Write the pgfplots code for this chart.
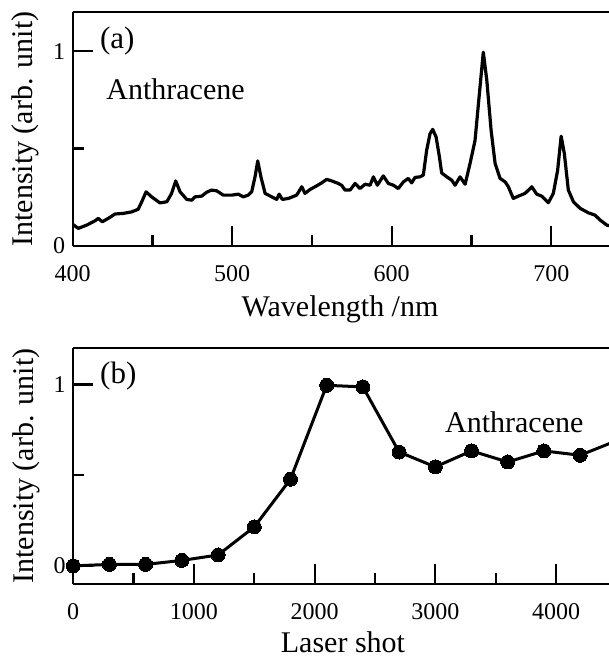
\documentclass[border=0pt]{standalone}
\usepackage{fontspec}
\setmainfont{Liberation Serif}
\usepackage{pgfplots}
\pgfplotsset{compat=1.18}

% shared look of both panels
\pgfplotsset{
  panel/.style={
    scale only axis,
    axis y line*=left,
    y axis line style={-},
    axis line style={line width=2.2pt},
    every tick/.style={black, line width=2.2pt},
    major tick length=20pt, minor tick length=11pt,
    tick align=inside,
    xtick pos=bottom, ytick pos=left,
    ticklabel style={font=\fontsize{24}{24}\selectfont},
    /pgf/number format/assume math mode=true,
    /pgf/number format/set thousands separator={},
    xticklabel style={yshift=-16pt},
    yticklabel style={xshift=-4pt},
    ylabel style={at={(axis description cs:0,0.5)}, rotate=0, anchor=south,
      yshift=30pt, font=\fontsize{30}{30}\selectfont},
    clip mode=individual,
  },
}

\begin{document}
\begin{tikzpicture}
% (b) intensity vs laser shot
\begin{axis}[panel, name=bot,
  at={(0pt,0pt)}, anchor=south west,
  width=535.8pt, height=235.7pt,
  xmin=0, xmax=4439, ymin=-0.1, ymax=1.2,
  xtick={0,1000,2000,3000,4000}, minor xtick={500,1500,2500,3500},
  ytick={0,1}, minor ytick={0.5},
  xlabel={Laser shot},
  xlabel style={at={(axis cs:2235,-0.1)}, anchor=base, yshift=-68.5pt,
    font=\fontsize{30}{30}\selectfont},
  ylabel={Intensity (arb. unit)},
]
\addplot[black, line width=3pt] coordinates {(4200,0.610) (4500,0.690)};
\addplot[black, line width=3pt, mark=*, mark size=7pt, mark options={line width=0pt}] coordinates {
  (0,0.000) (300,0.008) (600,0.008) (900,0.030) (1200,0.060)
  (1500,0.215) (1800,0.478) (2100,0.996) (2400,0.987) (2700,0.628)
  (3000,0.546) (3300,0.634) (3600,0.573) (3900,0.634) (4200,0.610)
};
\draw[line width=2.2pt] (rel axis cs:0,1) -- (rel axis cs:1,1);
\node[anchor=west, inner sep=0pt, font=\fontsize{31}{31}\selectfont] at (axis cs:222,1.046) {(b)};
\node[anchor=base west, inner sep=0pt, font=\fontsize{30}{30}\selectfont] at (axis cs:3080,0.737) {Anthracene};
\end{axis}

% (a) spectrum
\begin{axis}[panel, name=top,
  at={(-0.5pt,338.3pt)}, anchor=south west,
  width=536.3pt, height=233.4pt,
  xmin=400, xmax=736.2, ymin=0, ymax=1.2,
  xtick={400,500,600,700}, minor xtick={450,550,650},
  ytick={0,1}, minor ytick={0.5},
  xlabel={Wavelength /nm},
  xlabel style={at={(axis cs:567.6,0)}, anchor=base, yshift=-70.5pt,
    font=\fontsize{30}{30}\selectfont},
  ylabel={Intensity (arb. unit)},
]
\addplot[black, line width=3.2pt, line join=round] coordinates {
  (400.0,0.110) (403.5,0.089) (408.8,0.106) (414.0,0.128) (416.0,0.140)
  (418.6,0.123) (423.4,0.146) (426.5,0.163) (431.7,0.166) (437.0,0.174)
  (441.0,0.187) (443.3,0.226) (446.0,0.277) (449.5,0.251) (454.7,0.220)
  (459.0,0.226) (462.0,0.269) (464.6,0.333) (467.3,0.277) (471.5,0.238)
  (474.6,0.234) (476.7,0.251) (480.9,0.255) (484.0,0.275) (487.0,0.286)
  (490.3,0.282) (494.4,0.260) (499.7,0.260) (503.8,0.265) (507.0,0.251)
  (510.0,0.260) (512.2,0.277) (514.3,0.354) (516.0,0.436) (518.0,0.354)
  (520.6,0.269) (524.8,0.251) (527.9,0.238) (529.4,0.265) (531.4,0.238)
  (535.2,0.243) (540.4,0.260) (543.6,0.303) (545.6,0.269) (548.8,0.289)
  (551.9,0.303) (556.1,0.323) (559.2,0.341) (562.4,0.333) (566.5,0.320)
  (568.7,0.310) (570.7,0.286) (573.9,0.286) (577.0,0.320) (580.1,0.294)
  (583.3,0.316) (586.4,0.311) (588.5,0.354) (591.0,0.311) (594.7,0.359)
  (597.9,0.320) (601.0,0.311) (604.1,0.294) (607.3,0.328) (610.4,0.346)
  (612.5,0.323) (614.6,0.351) (617.7,0.354) (619.8,0.363) (621.9,0.491)
  (624.0,0.576) (625.7,0.598) (627.8,0.559) (629.9,0.456) (631.3,0.374)
  (634.5,0.354) (637.6,0.337) (639.7,0.311) (642.8,0.354) (646.0,0.316)
  (649.1,0.423) (652.2,0.540) (654.7,0.760) (657.4,0.995) (659.6,0.850)
  (662.3,0.593) (664.8,0.423) (667.9,0.346) (671.1,0.328) (673.1,0.303)
  (676.2,0.243) (679.4,0.255) (683.6,0.269) (687.8,0.303) (690.9,0.265)
  (694.0,0.255) (698.2,0.221) (701.3,0.269) (704.0,0.388) (706.2,0.563)
  (708.2,0.474) (710.7,0.286) (713.9,0.226) (718.1,0.192) (723.3,0.169)
  (727.5,0.157) (730.6,0.132) (734.8,0.106) (738.0,0.100)
};
\draw[line width=2.2pt] (rel axis cs:0,1) -- (rel axis cs:1,1);
\node[anchor=west, inner sep=0pt, font=\fontsize{31}{31}\selectfont] at (axis cs:417,1.05) {(a)};
\node[anchor=base west, inner sep=0pt, font=\fontsize{30}{30}\selectfont] at (axis cs:421,0.752) {Anthracene};
\end{axis}

% page = reference frame: 609 x 657 around the panels
\pgfresetboundingbox
\useasboundingbox ([xshift=-73.2pt,yshift=-73pt]bot.south west) rectangle ([xshift=535.8pt,yshift=584pt]bot.south west);
\end{tikzpicture}
\end{document}
